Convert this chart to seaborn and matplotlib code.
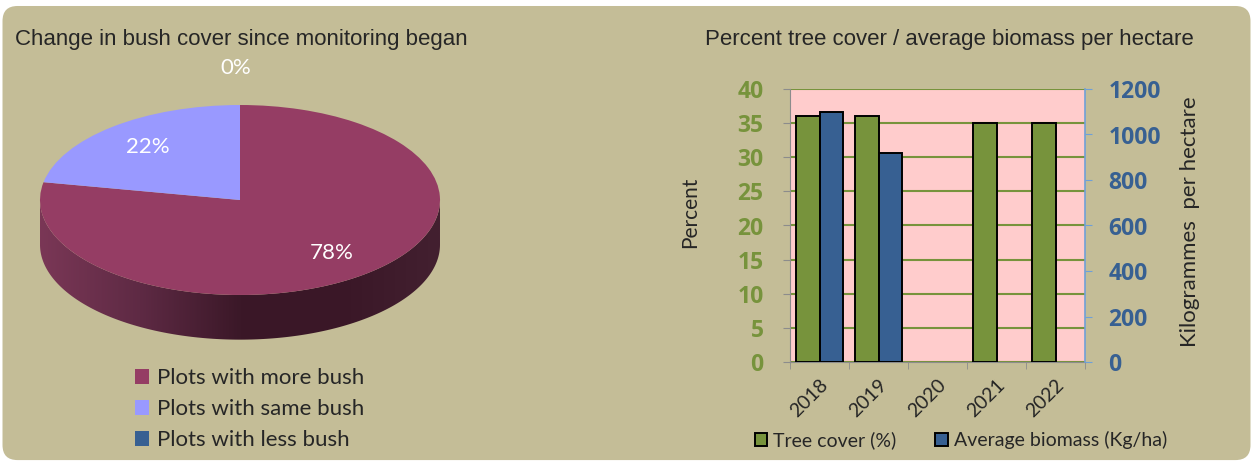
import numpy as np
import pandas as pd
import seaborn as sns
import matplotlib.pyplot as plt
from matplotlib.patches import Patch, FancyBboxPatch, Polygon
from matplotlib.colors import LinearSegmentedColormap

# pie data
pie_labels = ["Plots with more bush", "Plots with same bush", "Plots with less bush"]
pie_values = [78, 22, 0]
pie_colors = ["#953D64", "#9999FF", "#376092"]

# bar data
years = ["2018", "2019", "2020", "2021", "2022"]
tree_cover = [36, 36, np.nan, 35, 35]
biomass = [1100, 920, np.nan, np.nan, np.nan]
series_names = ["Tree cover (%)", "Average biomass (Kg/ha)"]
bar_colors = ["#77933C", "#376092"]

BG = "#C4BD97"
CALIBRI = "Lato"
ARIAL = "Liberation Sans"
BOLD = "Open Sans"

sns.set_style("white")
plt.rcParams["font.family"] = [CALIBRI, "DejaVu Sans"]

W, H = 1253, 461
fig = plt.figure(figsize=(W / 100, H / 100), dpi=100, facecolor="white")
fig.patches.append(FancyBboxPatch((0.002, 0.002), 0.996, 0.985,
                                  boxstyle="round,pad=0,rounding_size=0.012",
                                  transform=fig.transFigure, facecolor=BG,
                                  edgecolor="none", zorder=-10,
                                  mutation_aspect=W / H))


def rect(x0, y0, x1, y1):
    # pixel box (top-left origin) -> figure fraction
    return [x0 / W, 1 - y1 / H, (x1 - x0) / W, (y1 - y0) / H]


# ---------------- pie ----------------
axp = fig.add_axes(rect(0, 60, 480, 360))
axp.set_facecolor("none")
depth = 0.47

# side of the 3D disc with a horizontal shading
t = np.linspace(np.pi, 2 * np.pi, 200)
side = np.concatenate([np.c_[np.cos(t), np.sin(t)],
                       np.c_[np.cos(t[::-1]), np.sin(t[::-1]) - depth]])
side_patch = Polygon(side, closed=True, facecolor="none", edgecolor="none")
axp.add_patch(side_patch)
shade = LinearSegmentedColormap.from_list(
    "side", ["#7A3756", "#5E2A44", "#3B1828", "#3A1727", "#432030"])
grad = np.linspace(0, 1, 256).reshape(1, -1)
im = axp.imshow(grad, cmap=shade, extent=[-1, 1, -1 - depth, 0],
                aspect="auto", zorder=1)
im.set_clip_path(side_patch)

wedges, _, pcts = axp.pie(pie_values, colors=pie_colors, startangle=90,
                          counterclock=False, radius=1, autopct="%.0f%%",
                          pctdistance=0.72,
                          textprops=dict(color="white", fontsize=16,
                                         family=CALIBRI),
                          wedgeprops=dict(linewidth=0, zorder=2))
pcts[2].set_position((-0.02, 1.39))
axp.set_aspect("auto")
axp.set_xlim(-1.2, 1.2)
axp.set_ylim(-160 / 95, 140 / 95)
axp.axis("off")

fig.text(15 / W, 1 - 40 / H, "Change in bush cover since monitoring began",
         family=ARIAL, fontsize=16, va="center", ha="left")

fig.legend(handles=[Patch(facecolor=c, edgecolor="none", label=l)
                    for c, l in zip(pie_colors, pie_labels)],
           loc="center left", bbox_to_anchor=(126 / W, 1 - 409 / H),
           frameon=False, fontsize=16, handlelength=0.65, handleheight=0.65,
           handletextpad=0.35, labelspacing=0.5, borderaxespad=0)

# ---------------- bars ----------------
df_tree = pd.DataFrame({"year": years, "value": tree_cover, "series": series_names[0]})
df_bio = pd.DataFrame({"year": years, "value": biomass, "series": series_names[1]})

ax = fig.add_axes(rect(790, 89, 1085, 362))
ax.set_facecolor("#FFCCCC")
ax2 = ax.twinx()

sns.barplot(data=df_tree, x="year", y="value", hue="series", order=years,
            hue_order=series_names, palette=bar_colors, width=0.8, dodge=True,
            saturation=1, edgecolor="black", linewidth=1.4, ax=ax,
            legend=False, zorder=3)
sns.barplot(data=df_bio, x="year", y="value", hue="series", order=years,
            hue_order=series_names, palette=bar_colors, width=0.8, dodge=True,
            saturation=1, edgecolor="black", linewidth=1.4, ax=ax2,
            legend=False)

ax.set_ylim(0, 40)
ax.set_yticks(range(0, 41, 5))
ax2.set_ylim(0, 1200)
ax2.set_yticks(range(0, 1201, 200))
ax.set_xlim(-0.5, len(years) - 0.5)
ax2.set_xlim(-0.5, len(years) - 0.5)
ax.set_axisbelow(True)
ax.grid(axis="y", color="#77933C", linewidth=1.5)
ax.grid(axis="x", visible=False)

green_txt = "#77933C"
blue_txt = "#376092"
for a in (ax, ax2):
    a.spines["top"].set_visible(False)
ax.spines["left"].set_color("#8C8C8C")
ax.spines["bottom"].set_color("#8C8C8C")
ax.spines["right"].set_visible(False)
ax2.spines["left"].set_visible(False)
ax2.spines["bottom"].set_visible(False)
ax2.spines["right"].set_color("#6FA0D8")
ax2.spines["right"].set_linewidth(1.2)

ax.tick_params(axis="y", left=True, length=5, color="#8C8C8C",
               labelcolor=green_txt, labelsize=16.5, pad=14)
for lbl in ax.get_yticklabels():
    lbl.set_family(BOLD)
    lbl.set_fontweight("bold")
ax2.tick_params(axis="y", right=True, length=5, color="#6FA0D8",
                labelcolor=blue_txt, labelsize=16.5, pad=12)
for lbl in ax2.get_yticklabels():
    lbl.set_family(BOLD)
    lbl.set_fontweight("bold")

ax.set_xticks(range(len(years)))
ax.set_xticks(np.arange(-0.5, len(years)), minor=True)
ax.tick_params(axis="x", which="major", length=0, labelsize=14, pad=10)
ax.tick_params(axis="x", which="minor", bottom=True, length=5, color="#8C8C8C")
for lbl in ax.get_xticklabels():
    lbl.set_rotation(45)
    lbl.set_ha("right")
    lbl.set_rotation_mode("anchor")

ax.set_xlabel("")
ax.set_ylabel("Percent", fontsize=15)
ax.yaxis.set_label_coords(-0.305, 0.55)
ax2.set_ylabel("Kilogrammes  per hectare", fontsize=16)
ax2.yaxis.set_label_coords(1.322, 0.513)

fig.text(705 / W, 1 - 40 / H, "Percent tree cover / average biomass per hectare",
         family=ARIAL, fontsize=16, va="center", ha="left")

fig.legend(handles=[Patch(facecolor=c, edgecolor="black", linewidth=1.4, label=l)
                    for c, l in zip(bar_colors, series_names)],
           loc="center", bbox_to_anchor=(961 / W, 1 - 440 / H), ncol=2,
           frameon=False, fontsize=14, handlelength=0.65, handleheight=0.65,
           handletextpad=0.3, columnspacing=2.0, borderaxespad=0)

fig.savefig("out.png", dpi=100, facecolor=fig.get_facecolor())
